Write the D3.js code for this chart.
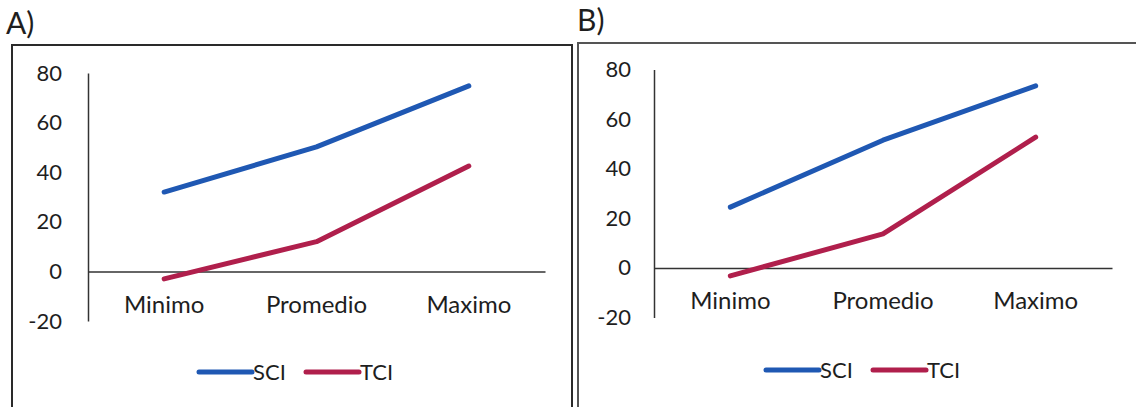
<!DOCTYPE html>
<html>
<head>
<meta charset="utf-8">
<script src="https://cdn.jsdelivr.net/npm/d3@7"></script>
<style>
  body { margin: 0; background: #fff; }
  svg { display: block; }
  text { font-family: Lato, "Open Sans", sans-serif; fill: #1e1e1e; }
</style>
</head>
<body>
<div id="chart"></div>
<script>
const categories = ["Minimo", "Promedio", "Maximo"];
const yTicks = [-20, 0, 20, 40, 60, 80];
const seriesNames = ["SCI", "TCI"];
const sciA = [32, 50.2, 74.8];
const tciA = [-3, 12, 42.5];
const sciB = [24.5, 51.5, 73.4];
const tciB = [-3.2, 13.7, 52.7];

const width = 1136, height = 407;
const colors = { SCI: "#1f58b3", TCI: "#b01f4c" };

const svg = d3.select("#chart")
  .append("svg")
  .attr("width", width)
  .attr("height", height);

// frames of the two pasted charts
svg.append("path")
  .attr("d", "M12,407 V45 H572 V407")
  .attr("fill", "none")
  .attr("stroke", "#2a2a2a")
  .attr("stroke-width", 2);

svg.append("path")
  .attr("d", "M578,407 V43 H1136")
  .attr("fill", "none")
  .attr("stroke", "#555")
  .attr("stroke-width", 2);

function drawPanel(p) {
  const g = svg.append("g");

  g.append("text")
    .attr("x", p.labelX)
    .attr("y", p.labelY)
    .style("font-size", "30px")
    .text(p.label);

  let x = d3.scaleBand()
    .domain(categories)
    .range([p.left, p.right]);

  let y = d3.scaleLinear()
    .domain([-20, 80])
    .range([p.bottom, p.top]);

  // y axis, plain hyphen for negatives like the original
  let yAx = g.append("g")
    .attr("transform", `translate(${p.left},0)`)
    .call(d3.axisLeft(y)
      .tickValues(yTicks)
      .tickFormat(d => String(d))
      .tickSize(0)
      .tickSizeOuter(0)
      .tickPadding(p.tickPad));
  yAx.select(".domain").attr("stroke", "#333").attr("stroke-width", 1.5);
  yAx.selectAll("text")
    .style("font-size", "22px")
    .style("font-family", "Lato, sans-serif")
    .attr("fill", "#1e1e1e");

  // category axis on the zero line
  let xAx = g.append("g")
    .attr("transform", `translate(0,${y(0)})`)
    .call(d3.axisBottom(x).tickSize(0).tickSizeOuter(0));
  xAx.select(".domain").attr("stroke", "#333").attr("stroke-width", 1.5);
  xAx.selectAll("text")
    .attr("y", 33)
    .attr("dy", "0.35em")
    .style("font-size", "24px")
    .style("font-family", "Lato, sans-serif")
    .attr("fill", "#1e1e1e");

  let line = d3.line()
    .x((d, i) => x(categories[i]) + x.bandwidth() / 2)
    .y(d => y(d));

  for (let s of p.series) {
    g.append("path")
      .datum(s.values)
      .attr("d", line)
      .attr("fill", "none")
      .attr("stroke", colors[s.name])
      .attr("stroke-width", 5)
      .attr("stroke-linecap", "round")
      .attr("stroke-linejoin", "round");
  }

  // legend
  let legend = g.selectAll(".legend")
    .data(seriesNames)
    .join("g")
    .attr("transform", (d, i) => `translate(${p.legendX + i * 107},${p.legendY})`);

  legend.append("line")
    .attr("x1", 0)
    .attr("x2", 53)
    .attr("stroke", d => colors[d])
    .attr("stroke-width", 5)
    .attr("stroke-linecap", "round");

  legend.append("text")
    .attr("x", 54)
    .attr("dy", "0.36em")
    .style("font-size", "22px")
    .text(d => d);
}

drawPanel({
  label: "A)", labelX: 6, labelY: 34,
  left: 88, right: 545, top: 73, bottom: 321, tickPad: 26,
  legendX: 199, legendY: 372,
  series: [{ name: "SCI", values: sciA }, { name: "TCI", values: tciA }]
});

drawPanel({
  label: "B)", labelX: 577, labelY: 31,
  left: 654, right: 1112, top: 69.5, bottom: 317.5, tickPad: 23,
  legendX: 766, legendY: 370,
  series: [{ name: "SCI", values: sciB }, { name: "TCI", values: tciB }]
});
</script>
</body>
</html>
